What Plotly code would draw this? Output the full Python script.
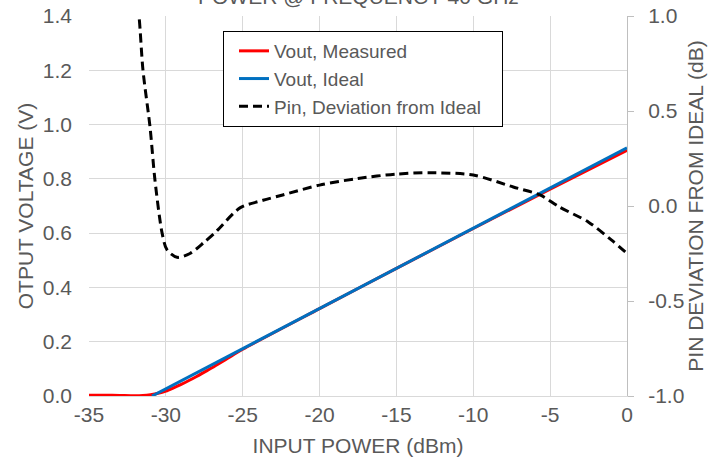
import plotly.graph_objects as go

# ---- data ----
x_meas = [-35, -34, -33, -32, -31.5, -31, -30.5, -30, -29.5, -29, -28.5, -28, -27.5, -27, -26, -25, -20, -15, -10, -5, 0]
v_meas = [0.003, 0.003, 0.002, 0.001, 0.002, 0.005, 0.010, 0.018, 0.030, 0.043, 0.057, 0.072, 0.088, 0.104, 0.138, 0.172, 0.322, 0.470, 0.617, 0.762, 0.905]

x_ideal = [-30.9, 0]
v_ideal = [0.0, 0.914]

x_dev = [-32.1, -31.75, -31.49, -31.03, -30.71, -30.25, -29.93, -29.27, -28.43, -27.5, -26.67, -25.18,
         -23.68, -22.4, -20, -17.5, -15, -12.8, -10, -7.4, -5.66, -4.4, -2.5, -1.0, 0]
dev = [1.2, 1.0, 0.716, 0.416, 0.137, -0.14, -0.23, -0.27, -0.25, -0.19, -0.13, -0.01,
       0.03, 0.058, 0.11, 0.145, 0.168, 0.175, 0.163, 0.10, 0.058, -0.005, -0.085, -0.18, -0.25]

x_ticks = [-35, -30, -25, -20, -15, -10, -5, 0]
y_ticks = [0.0, 0.2, 0.4, 0.6, 0.8, 1.0, 1.2, 1.4]
y2_ticks = [-1.0, -0.5, 0.0, 0.5, 1.0]

GRAY = "#595959"
FONT = "Liberation Sans, Arial, sans-serif"
FS = 21
NB = "\u00a0"

fig = go.Figure()
fig.add_trace(go.Scatter(x=x_meas, y=v_meas, mode="lines", name="Vout, Measured",
                         line=dict(color="#FF0000", width=3, shape="spline", smoothing=0.8)))
fig.add_trace(go.Scatter(x=x_ideal, y=v_ideal, mode="lines", name="Vout, Ideal",
                         line=dict(color="#0070C0", width=3)))
fig.add_trace(go.Scatter(x=x_dev, y=dev, mode="lines", name="Pin, Deviation from Ideal" + NB * 3, yaxis="y2",
                         line=dict(color="#000000", width=3, dash="9px,5px", shape="spline", smoothing=0.8)))

fig.update_layout(
    width=721, height=460,
    margin=dict(l=89, r=94, t=16, b=64, autoexpand=False),
    paper_bgcolor="white", plot_bgcolor="white",
    font=dict(family=FONT, color=GRAY, size=FS),
    showlegend=True,
    legend=dict(x=(223 - 89) / 538, y=(396 - 31) / 380, xanchor="left", yanchor="top",
                bgcolor="white", bordercolor="black", borderwidth=1, indentation=10,
                font=dict(size=19, color=GRAY), tracegroupgap=0, itemwidth=30),
    xaxis=dict(range=[-35, 0], tickvals=x_ticks, ticktext=[str(v) for v in x_ticks],
               showgrid=True, gridcolor="#d9d9d9", gridwidth=1,
               showline=True, linecolor="#d9d9d9", linewidth=1,
               zeroline=False, ticks="", tickfont=dict(size=FS, color=GRAY), automargin=False,
               ticklabeloverflow="allow",
               title=dict(text="INPUT POWER (dBm)", font=dict(size=FS, color=GRAY), standoff=13)),
    yaxis=dict(range=[0, 1.4], tickvals=y_ticks, ticktext=[f"{v:.1f}" for v in y_ticks],
               showgrid=True, gridcolor="#d9d9d9", gridwidth=1,
               showline=False, zeroline=False, ticks="", automargin=False,
               ticklabelstandoff=16, ticklabeloverflow="allow",
               tickfont=dict(size=FS, color=GRAY),
               title=dict(text="OTPUT VOLTAGE (V)", font=dict(size=FS, color=GRAY), standoff=3)),
    yaxis2=dict(range=[-1, 1], tickvals=y2_ticks, ticktext=[f"{v:.1f}" for v in y2_ticks],
                overlaying="y", side="right", showgrid=False, zeroline=False,
                showline=True, linecolor="#bfbfbf", linewidth=1,
                ticks="outside", ticklen=6, tickcolor="#bfbfbf", automargin=False,
                ticklabelstandoff=10, ticklabeloverflow="allow",
                tickfont=dict(size=FS, color=GRAY),
                title=dict(text="PIN DEVIATION FROM IDEAL (dB)", font=dict(size=FS, color=GRAY), standoff=4)),
    annotations=[dict(text="POWER @ FREQUENCY 40 GHz", xref="paper", yref="paper",
                      x=0.5, y=1 + 5.5 / 380, xanchor="center", yanchor="bottom",
                      showarrow=False, font=dict(size=FS, color=GRAY))],
)

# remove the browser's default 8px page margin so the figure sits at the window's corner
fig.write_html("out.html", config={"displayModeBar": False},
               post_script="document.body.style.margin='0';")
